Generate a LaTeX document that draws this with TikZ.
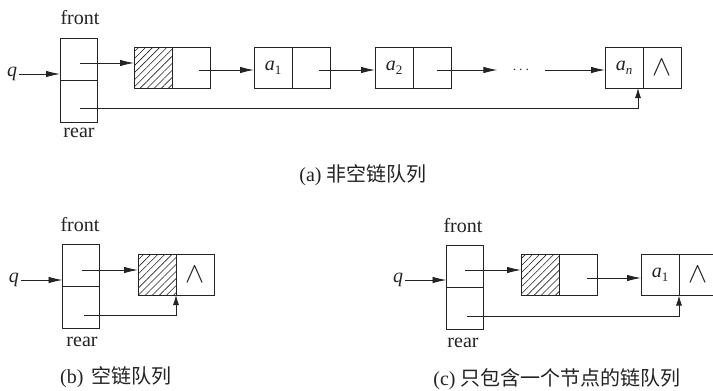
\documentclass[tikz,border=0pt]{standalone}
\usepackage{fontspec}
\setmainfont{Liberation Serif}
\newfontfamily\cjk{Noto Sans CJK SC}
\usetikzlibrary{arrows.meta,calc,patterns.meta}
\definecolor{ink}{RGB}{35,35,35}
\newcommand\elem[2]{\textit{#1}\raisebox{-0.45ex}{\fontsize{13}{13}\selectfont#2}}
\newcommand\nilsym{\scalebox{1.15}{\Huge$\wedge$}}
\tikzset{
  cell/.style={draw=ink, line width=1pt, minimum width=38pt, minimum height=41pt, inner sep=0pt, outer sep=0pt, text=ink, font=\fontsize{20}{22}\selectfont},
  headcell/.style={cell, minimum width=37pt, minimum height=42pt},
  hatch/.style={pattern={Lines[angle=45,distance=5pt,line width=0.6pt]}, pattern color=ink},
  tlabel/.style={inner sep=2pt, text=ink, font=\fontsize{20}{22}\selectfont},
  caption/.style={inner sep=0pt, text=ink, font=\fontsize{20}{22}\selectfont},
  ptr/.style={draw=ink, line width=0.9pt, -{Latex[length=14pt,width=6.5pt]}},
  upptr/.style={draw=ink, line width=0.9pt, -{Latex[length=10pt,width=6pt]}}
}
\begin{document}
\begin{tikzpicture}[x=1pt,y=-1pt]
\useasboundingbox (0,0) rectangle (713,391);
\clip (0,0) rectangle (713,391);
\fill[white] (0,0) rectangle (713,391);
% ---------- (a) ----------
\node[tlabel] (fa) at (80,18) {front};
\node[headcell] (hf) at (78.5,59) {};
\node[headcell] (hr) at (78.5,101) {};
\node[tlabel] (ra) at (79,133) {rear};
\node[tlabel] (qa) at (12,74) {\textit{q}};
\draw[ptr] (qa.east) -- (qa.east -| hf.west);
\node[cell,hatch] (n1d) at (153,67.5) {};
\node[cell] (n1p) at (191,67.5) {};
\node[cell] (a1d) at (273,67.5) {\elem{a}{1}};
\node[cell] (a1p) at (311,67.5) {};
\node[cell] (a2d) at (394,67.5) {\elem{a}{2}};
\node[cell] (a2p) at (432,67.5) {};
\node[inner xsep=15pt, inner ysep=0pt, text=ink] (dots) at (521,70) {\Large$\cdots$};
\node[cell] (and) at (624,67.5) {\elem{a}{\textit{n}}};
\node[cell] (anp) at (662,67.5) {\nilsym};
\coordinate (s1) at ($(hf.center)+(1.5,4)$);
\draw[ptr] (s1) -- (s1 -| n1d.west);
\coordinate (s2) at ($(n1p.center)+(8,2.5)$);
\draw[ptr] (s2) -- (s2 -| a1d.west);
\coordinate (s3) at ($(a1p.center)+(8,2.5)$);
\draw[ptr] (s3) -- (s3 -| a2d.west);
\coordinate (s4) at ($(a2p.center)+(5,2.5)$);
\draw[ptr] (s4) -- (s4 -| dots.west);
\draw[ptr] (dots.east) -- (dots.east -| and.west);
\coordinate (r1) at ($(hr.center)+(1.5,7)$);
\coordinate (t1) at ($(and.south east)+(-5,0)$);
\draw[upptr] (r1) -| (t1);
\node[caption] (capa) at (363,175) {(a) {\cjk 非空链队列}};
% ---------- (b) ----------
\node[tlabel] (fb) at (80,225) {front};
\node[headcell] (hbf) at (81,265.5) {};
\node[headcell] (hbr) at (81,307.5) {};
\node[tlabel] (rb) at (82,342) {rear};
\node[tlabel] (qb) at (14,280) {\textit{q}};
\draw[ptr] (qb.east) -- (qb.east -| hbf.west);
\node[cell,hatch] (bd) at (157,274.5) {};
\node[cell] (bp) at (195,274.5) {\nilsym};
\coordinate (sb1) at ($(hbf.center)+(1,4.5)$);
\draw[ptr] (sb1) -- (sb1 -| bd.west);
\coordinate (rb1) at ($(hbr.center)+(3,7.5)$);
\draw[upptr] (rb1) -| (bd.south east);
\node[caption] (capb) at (116,377) {(b)\, {\cjk 空链队列}};
% ---------- (c) ----------
\node[tlabel] (fc) at (463,226) {front};
\node[headcell] (hcf) at (465,266) {};
\node[headcell] (hcr) at (465,308) {};
\node[tlabel] (rc) at (463,343) {rear};
\node[tlabel] (qc) at (398,280) {\textit{q}};
\draw[ptr] (qc.east) -- (qc.east -| hcf.west);
\node[cell,hatch] (c1d) at (540,275) {};
\node[cell] (c1p) at (578,275) {};
\node[cell] (c2d) at (660,275) {\elem{a}{1}};
\node[cell] (c2p) at (698,275) {\nilsym};
\coordinate (sc1) at ($(hcf.center)+(0,4)$);
\draw[ptr] (sc1) -- (sc1 -| c1d.west);
\coordinate (sc2) at ($(c1p.center)+(9,3)$);
\draw[ptr] (sc2) -- (sc2 -| c2d.west);
\coordinate (rc1) at ($(hcr.center)+(2,8)$);
\draw[upptr] (rc1) -| (c2d.south east);
\node[caption] (capc) at (557,379) {(c) {\cjk 只包含一个节点的链队列}};
\end{tikzpicture}
\end{document}
